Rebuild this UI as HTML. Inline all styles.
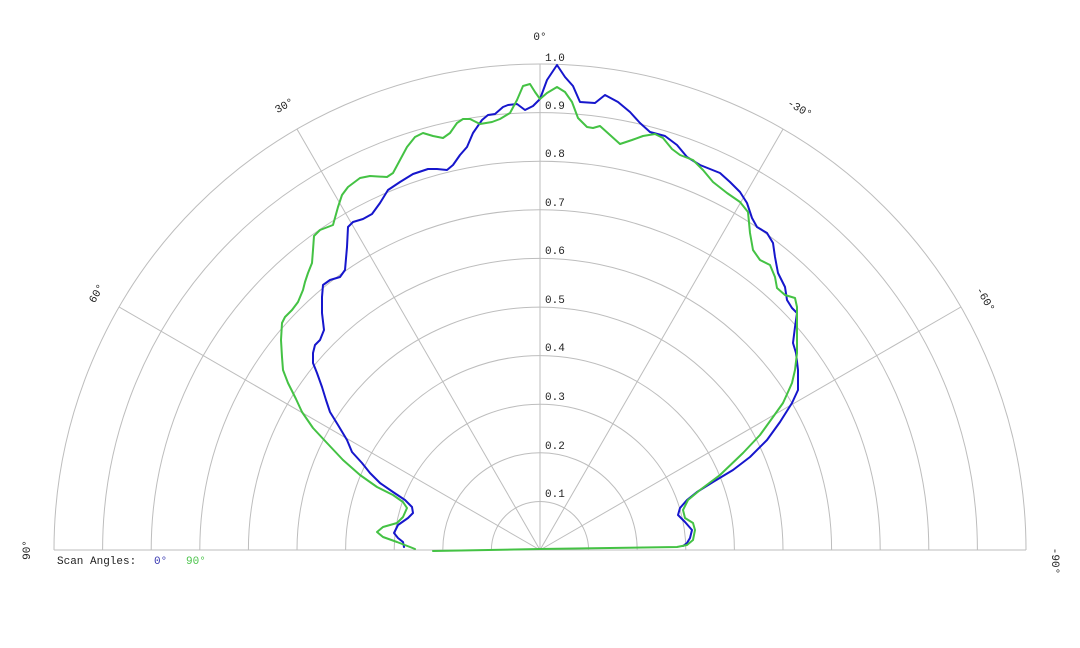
<!DOCTYPE html>
<html><head><meta charset="utf-8"><style>
html,body{margin:0;padding:0;background:#fff;}
svg{display:block;}
text{font-family:"Liberation Mono","DejaVu Sans Mono",monospace;font-size:11px;fill:#222;}
</style></head><body>
<svg width="1080" height="648" viewBox="0 0 1080 648" xmlns="http://www.w3.org/2000/svg">
<g fill="none" stroke="#bdbdbd" stroke-width="1">
<path d="M491.4,550 A48.6,48.6 0 0 1 588.6,550"/>
<path d="M442.8,550 A97.2,97.2 0 0 1 637.2,550"/>
<path d="M394.2,550 A145.8,145.8 0 0 1 685.8,550"/>
<path d="M345.6,550 A194.4,194.4 0 0 1 734.4,550"/>
<path d="M297,550 A243,243 0 0 1 783,550"/>
<path d="M248.4,550 A291.6,291.6 0 0 1 831.6,550"/>
<path d="M199.8,550 A340.2,340.2 0 0 1 880.2,550"/>
<path d="M151.2,550 A388.8,388.8 0 0 1 928.8,550"/>
<path d="M102.6,550 A437.4,437.4 0 0 1 977.4,550"/>
<path d="M54,550 A486,486 0 0 1 1026,550"/>
<line x1="54" y1="550" x2="1026" y2="550"/>
<line x1="540" y1="550" x2="540" y2="64"/>
<line x1="540" y1="550" x2="297" y2="129.1"/>
<line x1="540" y1="550" x2="119.1" y2="307"/>
<line x1="540" y1="550" x2="783" y2="129.1"/>
<line x1="540" y1="550" x2="960.9" y2="307"/>
</g>
<g>
<text x="545" y="497">0.1</text>
<text x="545" y="449">0.2</text>
<text x="545" y="400">0.3</text>
<text x="545" y="351">0.4</text>
<text x="545" y="303">0.5</text>
<text x="545" y="254">0.6</text>
<text x="545" y="206">0.7</text>
<text x="545" y="157">0.8</text>
<text x="545" y="109">0.9</text>
<text x="545" y="61">1.0</text>
</g>
<g text-anchor="middle">
<text x="540" y="40">0°</text>
<text x="0" y="0" transform="translate(284,105) rotate(-30)" dy="4">30°</text>
<text x="0" y="0" transform="translate(96,293) rotate(-60)" dy="4">60°</text>
<text x="0" y="0" transform="translate(26,550) rotate(-90)" dy="4">90°</text>
<text x="0" y="0" transform="translate(800,108) rotate(30)" dy="4">-30°</text>
<text x="0" y="0" transform="translate(986,299) rotate(60)" dy="4">-60°</text>
<text x="0" y="0" transform="translate(1056,561) rotate(90)" dy="4">-90°</text>
</g>
<text x="57" y="564">Scan Angles:</text>
<text x="154" y="564" style="fill:#3636b0">0°</text>
<text x="186" y="564" style="fill:#4cc44c">90°</text>
<g fill="none" stroke-width="2" stroke-linejoin="round" stroke-linecap="round">
<polyline stroke="#1616cc" points="404,547 403,542 398,538 394,533 398,525 408,518 413,513 412,507 405,500 393,492 380,483 370,473 362,463 352,452 347,440 338,425 330,412 326,400 322,387 317,373 313,363 313,353 315,345 320,340 324,330 322,313 322,297 323,285 330,280 340,277 345,270 347,247 348,227 353,222 363,219 372,214 380,203 388,190 400,182 413,174 428,169 437,169 447,170 453,165 460,155 467,147 473,133 482,120 488,115 495,114 503,107 508,105 517,104 525,110 533,106 540,99 547,80 557,65 565,77 573,86 580,102 595,103 605,95 618,102 630,112 640,123 650,132 665,136 677,145 687,157 700,165 720,173 730,182 740,192 747,203 752,218 757,227 767,233 773,243 775,257 778,273 785,287 787,300 792,308 797,313 795,327 793,343 796,353 798,370 798,390 792,403 780,422 767,440 750,457 733,470 713,482 697,492 687,500 680,508 678,515 685,522 692,530 690,538 687,543 683,546"/>
<polyline stroke="#44c244" points="415,549 410,547 397,542 383,537 377,532 383,527 397,523 403,517 407,508 403,502 393,495 377,487 360,475 343,460 327,443 313,428 302,412 296,399 288,383 283,370 282,357 281,340 282,323 285,317 292,310 298,302 303,290 305,282 308,273 312,263 313,250 314,236 320,230 333,225 338,207 342,195 348,187 360,178 370,176 387,177 393,173 400,160 407,147 415,137 423,133 433,136 443,138 450,133 457,123 463,119 470,119 480,124 492,122 500,119 510,113 517,100 523,86 530,84 535,92 540,99 547,93 557,87 565,92 572,102 578,118 587,127 593,128 600,126 610,135 620,144 632,140 643,136 655,134 663,138 672,149 680,155 693,160 703,170 713,182 727,193 740,202 748,212 750,233 753,250 760,260 770,265 775,277 777,288 785,295 795,298 797,307 797,330 797,353 795,370 792,383 788,392 783,403 773,417 760,435 743,453 720,475 700,490 688,500 683,510 685,518 693,523 695,530 693,540 687,545 677,547 540,549 433,551"/>
</g>
</svg>
</body></html>
